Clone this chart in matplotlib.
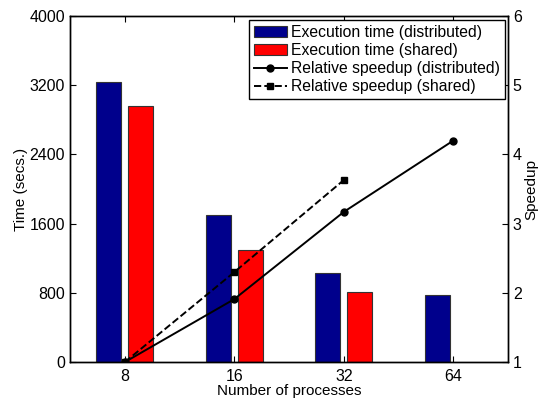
import matplotlib.pyplot as plt
import numpy as np

plt.rcParams['font.family'] = ['Liberation Sans', 'DejaVu Sans']
plt.rcParams['font.size'] = 11

procs = ['8', '16', '32', '64']
time_dist = [3240, 1705, 1025, 775]
time_shared = [2960, 1290, 815]
speedup_dist = [1.0, 1.91, 3.17, 4.20]
speedup_shared = [1.0, 2.30, 3.63]

x = np.arange(1, len(procs) + 1)
w = 0.23
off = 0.146

fig = plt.figure(figsize=(5.39, 4.01), dpi=100)
ax = fig.add_axes([0.130, 0.097, 0.8125, 0.863])
ax2 = ax.twinx()

b1 = ax.bar(x - off, time_dist, w, color='#00008c', edgecolor='#333333', linewidth=0.8,
            label='Execution time (distributed)')
b2 = ax.bar(x[:len(time_shared)] + off, time_shared, w, color='#ff0000', edgecolor='#333333',
            linewidth=0.8, label='Execution time (shared)')

l1, = ax2.plot(x, speedup_dist, '-o', color='k', lw=1.4, ms=5,
               label='Relative speedup (distributed)')
l2, = ax2.plot(x[:len(speedup_shared)], speedup_shared, '--s', color='k', lw=1.4, ms=4,
               label='Relative speedup (shared)')

ax.set_xlim(0.5, 4.5)
ax.set_ylim(0, 4000)
ax.set_yticks([0, 800, 1600, 2400, 3200, 4000])
ax.set_xticks(x)
ax.set_xticklabels(procs, fontsize=11.5)
ax2.set_ylim(1, 6)
ax2.set_yticks([1, 2, 3, 4, 5, 6])

ax.tick_params(axis='x', direction='in', top=True, length=4, pad=5)
ax.tick_params(axis='y', direction='in', length=4, labelsize=11.5)
ax2.tick_params(axis='y', direction='in', length=4, labelsize=11.5)
for a in (ax, ax2):
    for s in a.spines.values():
        s.set_linewidth(1.0)

ax.set_xlabel('Number of processes', labelpad=0)
ax.set_ylabel('Time (secs.)', labelpad=1)
ax2.set_ylabel('Speedup')
ax2.yaxis.set_label_coords(1.038, 0.5)

leg = ax2.legend([b1, b2, l1, l2],
                 [b1.get_label(), b2.get_label(), l1.get_label(), l2.get_label()],
                 loc='upper right', bbox_to_anchor=(0.993, 0.988), fancybox=False, framealpha=1,
                 edgecolor='k', borderpad=0.3, labelspacing=0.2, handlelength=2.1,
                 handleheight=0.75, handletextpad=0.3, borderaxespad=0, fontsize=11.3)
leg.get_frame().set_linewidth(1.0)

fig.savefig('out.png', dpi=100)
